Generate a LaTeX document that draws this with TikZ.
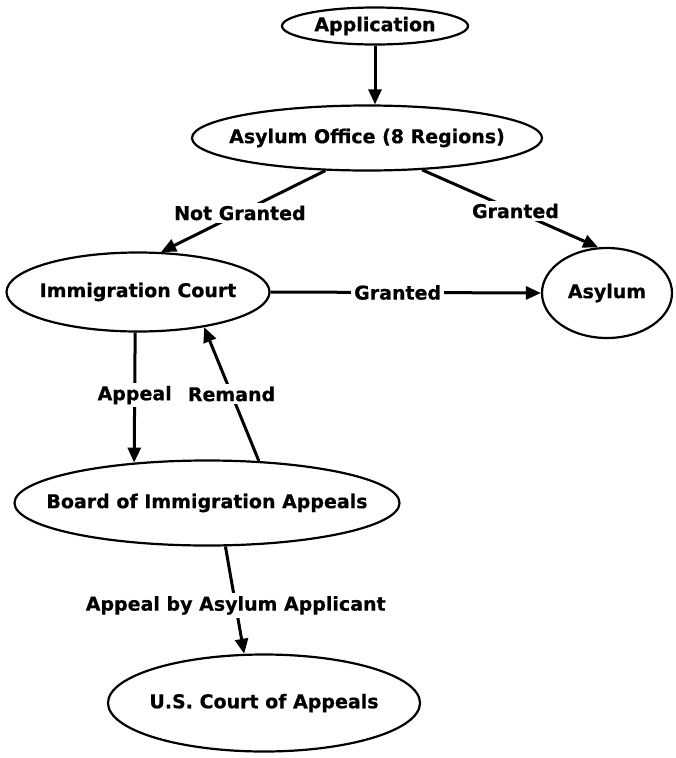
\documentclass[tikz,border=0pt]{standalone}
\usepackage{fontspec}
\setmainfont{DejaVu Sans}[BoldFeatures={FakeBold=0.6}]
\usetikzlibrary{shapes.geometric,arrows.meta}

\tikzset{
  stage/.style={draw=black, ellipse, line width=2.2pt, inner sep=0pt,
                font=\bfseries\fontsize{19}{22}\selectfont},
  flow/.style={black, line width=3pt, -{Triangle[length=15pt,width=13pt]}},
  edgetag/.style={fill=white, inner sep=3pt, font=\bfseries\fontsize{19}{22}\selectfont}
}
% keeps a wide label from growing its ellipse
\newcommand{\flatlabel}[1]{\makebox[0pt]{#1}}

\begin{document}
\begin{tikzpicture}[x=1pt,y=-1pt]
        \useasboundingbox (0,0) rectangle (675,758);

        \node[stage, minimum width=186pt, minimum height=37pt] (app) at (375,26) {\flatlabel{Application}};
        \node[stage, minimum width=350pt, minimum height=65pt] (office) at (367,138) {\flatlabel{Asylum Office (8 Regions)}};
        \node[stage, minimum width=263pt, minimum height=79pt] (court) at (138,292) {\flatlabel{Immigration Court}};
        \node[stage, minimum width=130pt, minimum height=90pt] (asylum) at (607,293) {\flatlabel{Asylum}};
        \node[stage, minimum width=385pt, minimum height=85pt] (bia) at (207,503) {\flatlabel{Board of Immigration Appeals}};
        \node[stage, minimum width=312pt, minimum height=97pt] (usca) at (264,703) {\flatlabel{U.S. Court of Appeals}};

        \draw[flow] (app.south) -- (app.south |- office.north);

        \draw[flow] (office.218) -- node[edgetag, pos=0.52] (notgranted) {Not Granted} (court.60);
        \draw[flow] (office.330) -- node[edgetag, pos=0.53] (granted) {Granted} (asylum.101);
        \draw[flow] (court.east) -- node[edgetag, pos=0.47] (grantedcourt) {Granted} (asylum.west);

        \draw[flow] (court.266) -- node[edgetag, pos=0.48] (appeal) {Appeal} (bia.151);
        \draw[flow] (bia.39) -- node[edgetag, pos=0.5] (remand) {Remand} (court.332);

        \draw[flow] (bia.293) -- node[edgetag, pos=0.55] (applicant) {Appeal by Asylum Applicant} (usca.112);
      \end{tikzpicture}
\end{document}
